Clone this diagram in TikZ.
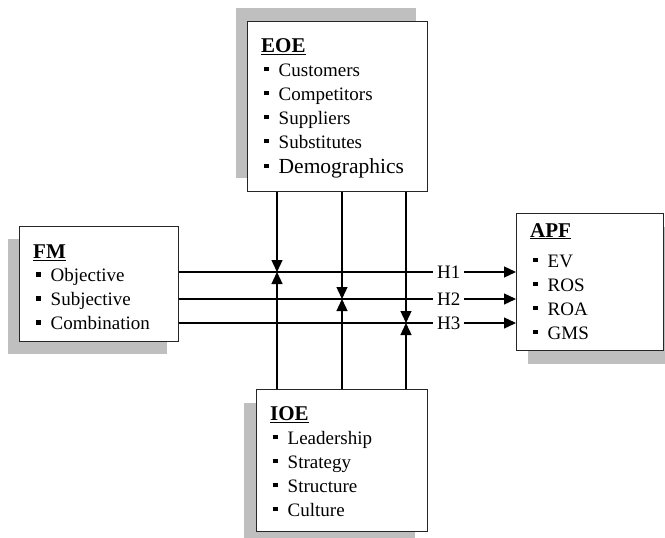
\documentclass[tikz,border=0pt]{standalone}
\usepackage{fontspec}
\setmainfont{Liberation Serif}
\usetikzlibrary{arrows.meta,shadows,positioning}

\tikzset{
  box/.style={draw=black!85, line width=1.4pt, fill=white, rectangle,
    anchor=north west, inner sep=0pt},
  txt/.style={anchor=north west, inner sep=0pt, align=left,
    font=\fontsize{19}{24}\selectfont},
  conn/.style={line width=1.3pt, -{Triangle[length=12pt,width=11pt]}},
  hlab/.style={fill=white, inner xsep=4pt, inner ysep=1pt,
    font=\fontsize{19}{22}\selectfont}
}
\newcommand{\hd}[1]{{\fontsize{21}{24}\selectfont\bfseries\underline{#1}}}
\newcommand{\bul}{\hspace*{3pt}\rule[5pt]{4.5pt}{4.5pt}\hspace{10pt}}

\begin{document}
\begin{tikzpicture}[x=1pt,y=-1pt]
    \useasboundingbox (0,0) rectangle (665,538);
    % boxes
    \node [box, minimum width=180pt, minimum height=170pt,
      drop shadow={shadow xshift=-12pt, shadow yshift=14pt, fill=black!25, opacity=1}] (eoe) at (247,21) {};
    \node [box, minimum width=159pt, minimum height=115pt,
      drop shadow={shadow xshift=-12pt, shadow yshift=-12pt, fill=black!25, opacity=1}] (fm) at (19,226) {};
    \node [box, minimum width=147pt, minimum height=137pt,
      drop shadow={shadow xshift=11pt, shadow yshift=-13pt, fill=black!25, opacity=1}] (apf) at (516,213) {};
    \node [box, minimum width=171pt, minimum height=142pt,
      drop shadow={shadow xshift=-13pt, shadow yshift=-13pt, fill=black!25, opacity=1}] (ioe) at (256,389) {};
    % box texts
    \node [txt] (eoe-txt) at (261,38) {\hd{EOE}\\ \bul Customers\\ \bul Competitors\\
      \bul Suppliers\\ \bul Substitutes\\[1pt] \bul{\fontsize{21.5}{24}\selectfont Demographics}};
    \node [txt] (fm-txt) at (33,245) {\hd{FM}\\[-1pt] \bul Objective\\ \bul Subjective\\ \bul Combination};
    \node [txt] (apf-txt) at (530,223) {\hd{APF}\\[6pt] \bul EV\\ \bul ROS\\ \bul ROA\\ \bul GMS};
    \node [txt] (ioe-txt) at (270,406) {\hd{IOE}\\ \bul Leadership\\ \bul Strategy\\ \bul Structure\\ \bul Culture};
    % meeting points
    \coordinate (m1) at (277,272);
    \coordinate (m2) at (342,299);
    \coordinate (m3) at (406,323);
    % hypotheses
    \draw [conn] (fm.east |- m1) -- node [hlab, pos=0.8] {H1} (apf.west |- m1);
    \draw [conn] (fm.east |- m2) -- node [hlab, pos=0.8] {H2} (apf.west |- m2);
    \draw [conn] (fm.east |- m3) -- node [hlab, pos=0.8] {H3} (apf.west |- m3);
    % moderators
    \draw [conn] (eoe.south -| m1) -- (m1);
    \draw [conn] (eoe.south -| m2) -- (m2);
    \draw [conn] (eoe.south -| m3) -- (m3);
    \draw [conn] (ioe.north -| m1) -- (m1);
    \draw [conn] (ioe.north -| m2) -- (m2);
    \draw [conn] (ioe.north -| m3) -- (m3);
\end{tikzpicture}
\end{document}
